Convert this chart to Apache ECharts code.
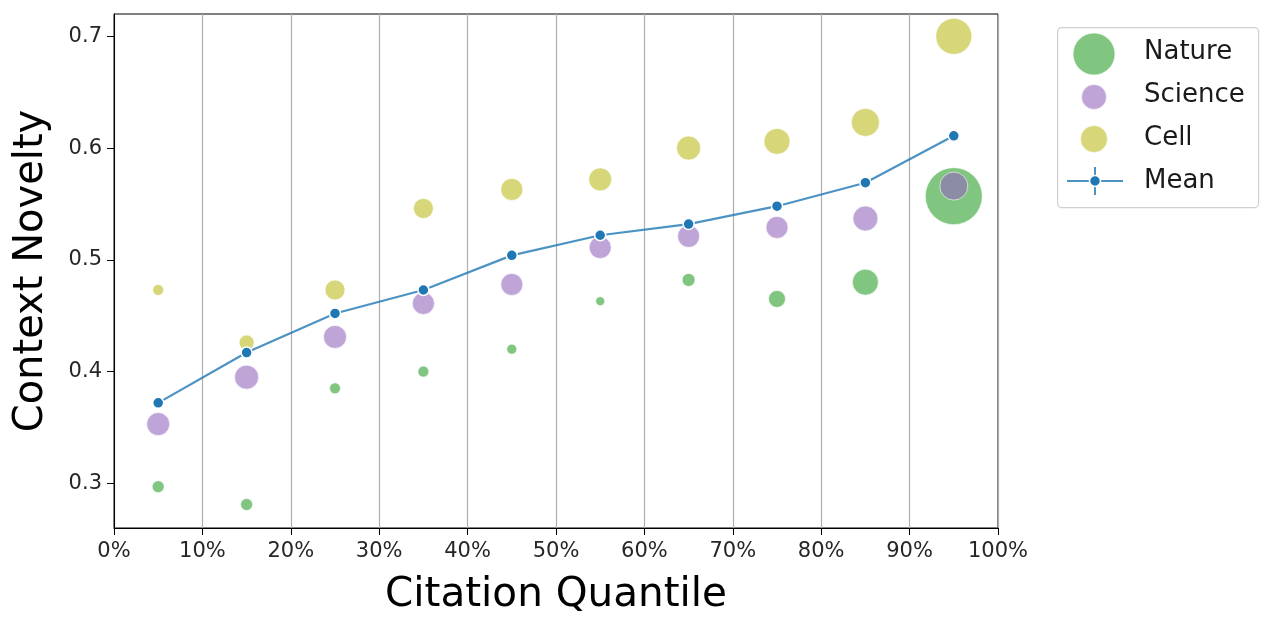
<!DOCTYPE html>
<html>
<head>
<meta charset="utf-8">
<script src="https://cdn.jsdelivr.net/npm/echarts@6/dist/echarts.min.js"></script>
<style>
  html, body { margin: 0; padding: 0; background: #fff; }
  #chart { width: 1271px; height: 623px; }
</style>
</head>
<body>
<div id="chart"></div>
<script>
// Citation quantile bin midpoints (%)
const quantiles = [5, 15, 25, 35, 45, 55, 65, 75, 85, 95];
const xTicks = [0, 10, 20, 30, 40, 50, 60, 70, 80, 90, 100];
const yTicks = [0.3, 0.4, 0.5, 0.6, 0.7];
const legendNames = ['Nature', 'Science', 'Cell', 'Mean'];

// Context novelty per journal
const natureValues  = [0.297, 0.281, 0.385, 0.400, 0.420, 0.463, 0.482, 0.465, 0.480, 0.557];
const scienceValues = [0.353, 0.395, 0.431, 0.461, 0.478, 0.511, 0.521, 0.529, 0.537, 0.566];
const cellValues    = [0.473, 0.426, 0.473, 0.546, 0.563, 0.572, 0.600, 0.606, 0.623, 0.700];
const meanValues    = [0.372, 0.417, 0.452, 0.473, 0.504, 0.522, 0.532, 0.548, 0.569, 0.611];

// Relative bubble weights (area-proportional)
const natureWeight  = [36, 36, 30, 30, 25, 20, 42, 72, 169, 812];
const scienceWeight = [132, 144, 132, 121, 121, 121, 121, 121, 156, 196];
const cellWeight    = [30, 56, 100, 100, 121, 132, 144, 169, 196, 324];

const FONT = 'DejaVu Sans';
const colNature = '#2ca02c';
const colScience = '#9467bd';
const colCell = '#bcbd22';
const colMean = '#1f77b4';

function pts(vals, w) {
  return quantiles.map((q, i) => [q, vals[i], w ? w[i] : 0]);
}
const sizeFn = d => 2 * Math.sqrt(d[2]);

function bubble(name, vals, w, color) {
  return {
    name: name, type: 'scatter', data: pts(vals, w),
    symbol: 'circle', symbolSize: sizeFn,
    itemStyle: { color: color, opacity: 0.6, borderColor: '#fff', borderWidth: 1 },
    emphasis: { disabled: true }, silent: true
  };
}

// legend marker glyphs (drawn as graphics next to the legend text)
function legendDot(cx, cy, r, color) {
  return { type: 'circle', shape: { cx: cx, cy: cy, r: r },
    style: { fill: color, opacity: 0.6, stroke: '#fff', lineWidth: 1 } };
}

const option = {
  animation: false,
  backgroundColor: '#fff',
  grid: { left: 114, right: 273, top: 14, bottom: 95, show: true, borderColor: '#000', borderWidth: 1, backgroundColor: 'transparent' },
  xAxis: {
    type: 'value', min: 0, max: 100, interval: 10,
    name: 'Citation Quantile', nameLocation: 'middle', nameGap: 47,
    nameTextStyle: { fontFamily: FONT, fontSize: 40.5, color: '#000' },
    axisLine: { show: true, lineStyle: { color: '#000', width: 1 } },
    axisTick: { show: true, length: 7, lineStyle: { color: '#000' } },
    axisLabel: { fontFamily: FONT, fontSize: 21, color: '#262626', margin: 13,
      customValues: xTicks, formatter: v => v + '%' },
    splitLine: { show: true, lineStyle: { color: '#b0b0b0', width: 1.2 } }
  },
  yAxis: {
    type: 'value', min: 0.26, max: 0.72,
    name: 'Context Novelty', nameLocation: 'middle', nameGap: 62,
    nameTextStyle: { fontFamily: FONT, fontSize: 40, color: '#000' },
    axisLine: { show: true, lineStyle: { color: '#000', width: 1 } },
    axisTick: { show: true, length: 7, lineStyle: { color: '#000' }, customValues: yTicks },
    axisLabel: { fontFamily: FONT, fontSize: 21, color: '#262626', margin: 12,
      customValues: yTicks, formatter: v => v.toFixed(1) },
    splitLine: { show: false }
  },
  legend: {
    show: true, orient: 'vertical', left: 1110, top: 38, padding: 0,
    itemWidth: 30, itemHeight: 26, itemGap: 15, selectedMode: false,
    data: legendNames.map(n => ({ name: n, icon: 'circle', itemStyle: { opacity: 0 }, lineStyle: { opacity: 0 } })),
    textStyle: { fontFamily: FONT, fontSize: 26, color: '#1a1a1a', lineHeight: 26 }
  },
  graphic: [
    {
      type: 'rect', left: 1057, top: 27, z: -1,
      shape: { width: 201, height: 180, r: 4 },
      style: { fill: '#fff', stroke: '#d0d0d0', lineWidth: 1.2 }
    },
    {
      type: 'group', z: 10,
      children: [
        legendDot(1094, 54, 21, colNature),
        legendDot(1094, 97, 12.5, colScience),
        legendDot(1094, 139, 13.5, colCell),
        { type: 'line', shape: { x1: 1067, y1: 181, x2: 1123, y2: 181 }, style: { stroke: 'rgba(31,119,180,0.8)', lineWidth: 2 } },
        { type: 'line', shape: { x1: 1095, y1: 167, x2: 1095, y2: 195 }, style: { stroke: 'rgba(31,119,180,0.8)', lineWidth: 2 } },
        { type: 'circle', shape: { cx: 1095, cy: 181, r: 5.5 }, style: { fill: colMean, stroke: '#fff', lineWidth: 1.5 } }
      ]
    }
  ],
  series: [
    bubble('Nature', natureValues, natureWeight, colNature),
    bubble('Science', scienceValues, scienceWeight, colScience),
    bubble('Cell', cellValues, cellWeight, colCell),
    {
      name: 'Mean', type: 'line', data: pts(meanValues),
      symbol: 'circle', symbolSize: 11, showSymbol: true,
      lineStyle: { color: 'rgba(31,119,180,0.8)', width: 2.2 },
      itemStyle: { color: colMean, borderColor: '#fff', borderWidth: 1.5 },
      emphasis: { disabled: true }, silent: true, z: 5
    }
  ]
};

const chart = echarts.init(document.getElementById('chart'), null, { renderer: 'canvas' });
chart.setOption(option);
</script>
</body>
</html>
